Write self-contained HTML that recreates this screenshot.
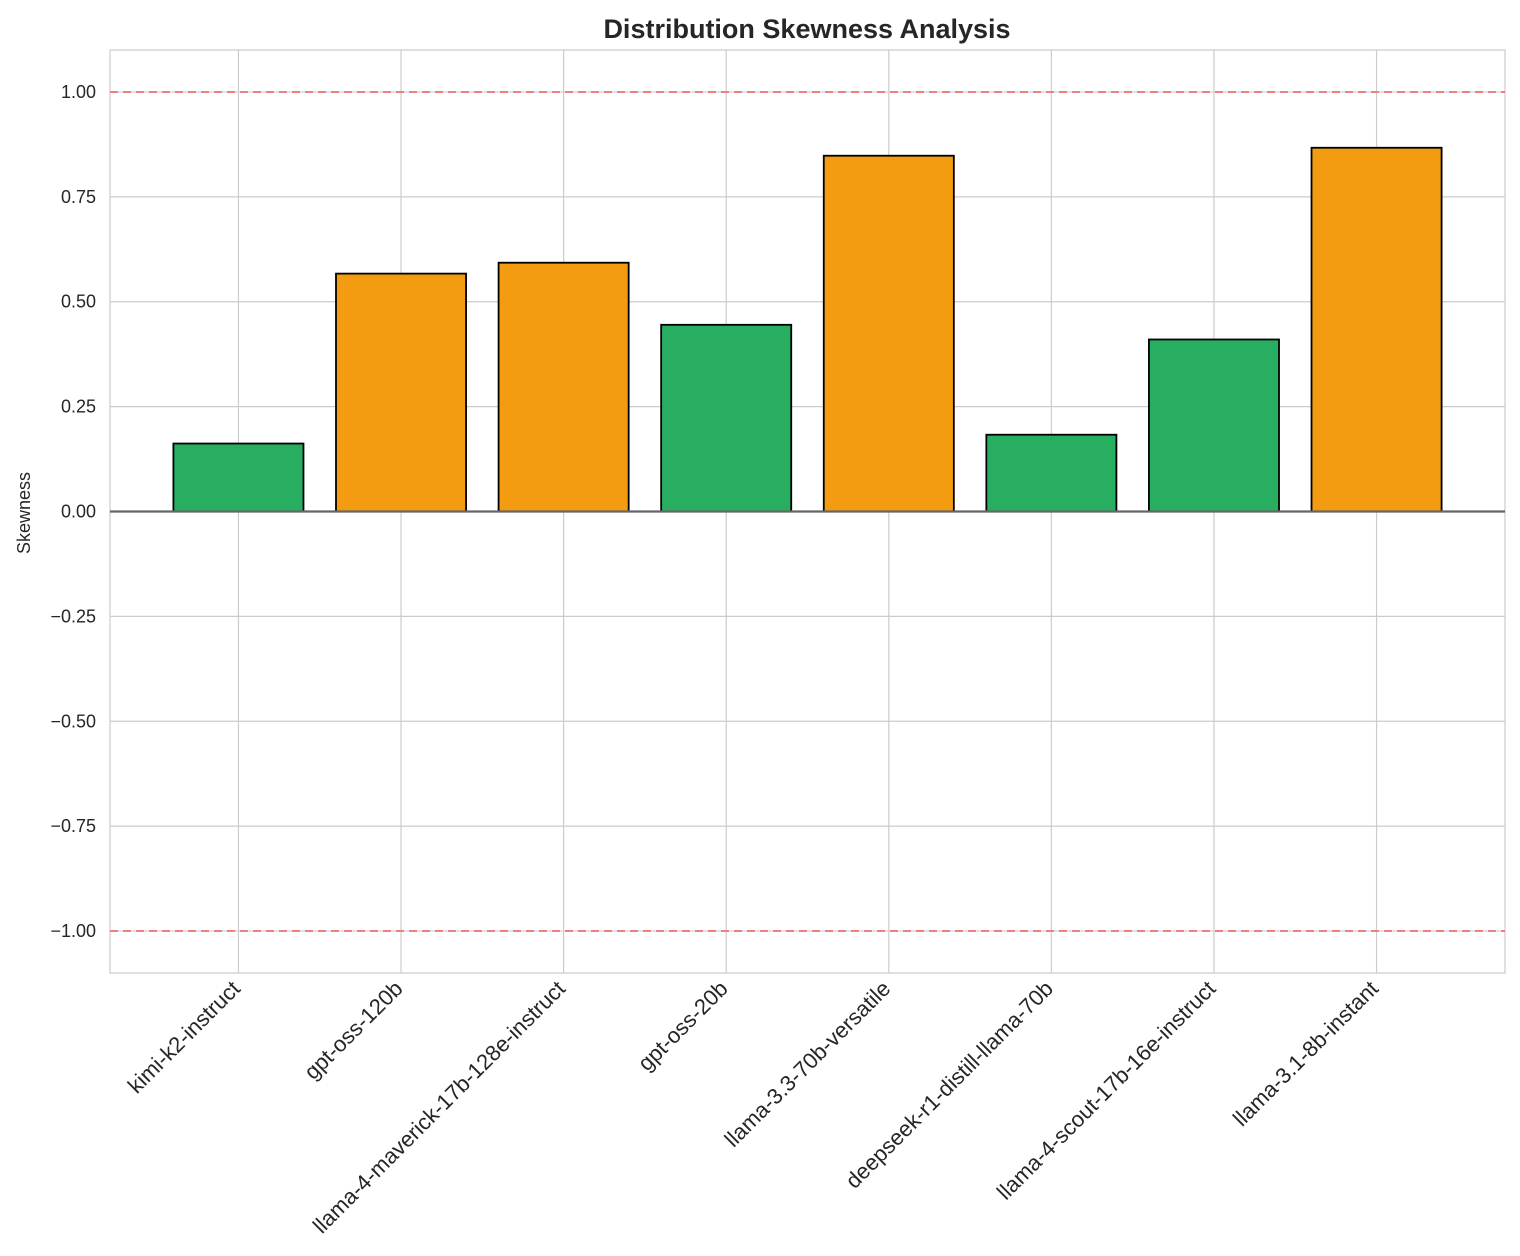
<!DOCTYPE html>
<html><head><meta charset="utf-8"><style>
body{margin:0;background:#fff;}
svg text{font-family:"Liberation Sans",Arial,sans-serif;}
</style></head><body>
<svg id="chart" width="1520" height="1251" xmlns="http://www.w3.org/2000/svg">
<text x="807" y="38" text-anchor="middle" font-size="27" font-weight="bold" fill="#262626">Distribution Skewness Analysis</text>
<text transform="translate(30,513) rotate(-90)" text-anchor="middle" font-size="18" fill="#262626">Skewness</text>
<g id="grid"></g><g id="bars"></g><g id="ticks"></g>
</svg>
<script>
const categories=["kimi-k2-instruct","gpt-oss-120b","llama-4-maverick-17b-128e-instruct","gpt-oss-20b","llama-3.3-70b-versatile","deepseek-r1-distill-llama-70b","llama-4-scout-17b-16e-instruct","llama-3.1-8b-instant"];
const skewValues=[0.162,0.567,0.593,0.445,0.848,0.183,0.410,0.867];
const yTicks=[-1.0,-0.75,-0.5,-0.25,0.0,0.25,0.5,0.75,1.0];
const yTickLabels=["\u22121.00","\u22120.75","\u22120.50","\u22120.25","0.00","0.25","0.50","0.75","1.00"];
const threshold=0.5;

const L=110,R=1505,T=50,B=973;
const xMin=-0.79,xMax=categories.length-1+0.79;
const yMin=-1.1,yMax=1.1;
const xs=v=>L+(v-xMin)/(xMax-xMin)*(R-L);
const ys=v=>B-(v-yMin)/(yMax-yMin)*(B-T);
const NS="http://www.w3.org/2000/svg";
function mk(tag,attrs,parent){const e=document.createElementNS(NS,tag);for(const k in attrs)e.setAttribute(k,attrs[k]);parent.appendChild(e);return e;}
const grid=document.getElementById('grid'),bars=document.getElementById('bars'),ticks=document.getElementById('ticks');
mk('rect',{x:L,y:T,width:R-L,height:B-T,fill:'none',stroke:'#cccccc','stroke-width':1.2},grid);
yTicks.forEach((t,i)=>{
 const y=ys(t);
 const g=mk('line',{x1:L,x2:R,y1:y,y2:y,stroke:'#cccccc','stroke-width':1.2},grid);
 
 
 const tx=mk('text',{x:L-14,y:y+6,'text-anchor':'end','font-size':18,fill:'#262626'},ticks);
 tx.textContent=yTickLabels[i];
 
 
});
categories.forEach((c,i)=>{
 const x=xs(i);
 const g=mk('line',{x1:x,x2:x,y1:T,y2:B,stroke:'#cccccc','stroke-width':1.2},grid);
 
 
 const tx=mk('text',{transform:`translate(${x+3},${B+17}) rotate(-45)`,'text-anchor':'end','font-size':22,fill:'#262626'},ticks);
 tx.textContent=c;
 
 
});
[1,-1].forEach(v=>{
 const l=mk('line',{x1:L,x2:R,y1:ys(v),y2:ys(v),stroke:'#f08080','stroke-width':2,'stroke-dasharray':'8,5'},bars);
 
 
});
const bw=0.8;
skewValues.forEach((v,i)=>{
 const x0=xs(i-bw/2),x1=xs(i+bw/2);
 const y0=ys(Math.max(v,0)),y1=ys(Math.min(v,0));
 const r=mk('rect',{x:x0,y:y0,width:x1-x0,height:y1-y0,fill:Math.abs(v)>threshold?'#f39c12':'#27ae60',stroke:'#000','stroke-width':1.8},bars);
 
 
});
const z=mk('line',{x1:L,x2:R,y1:ys(0),y2:ys(0),stroke:'#666','stroke-width':2.2},bars);


</script>
</body></html>
